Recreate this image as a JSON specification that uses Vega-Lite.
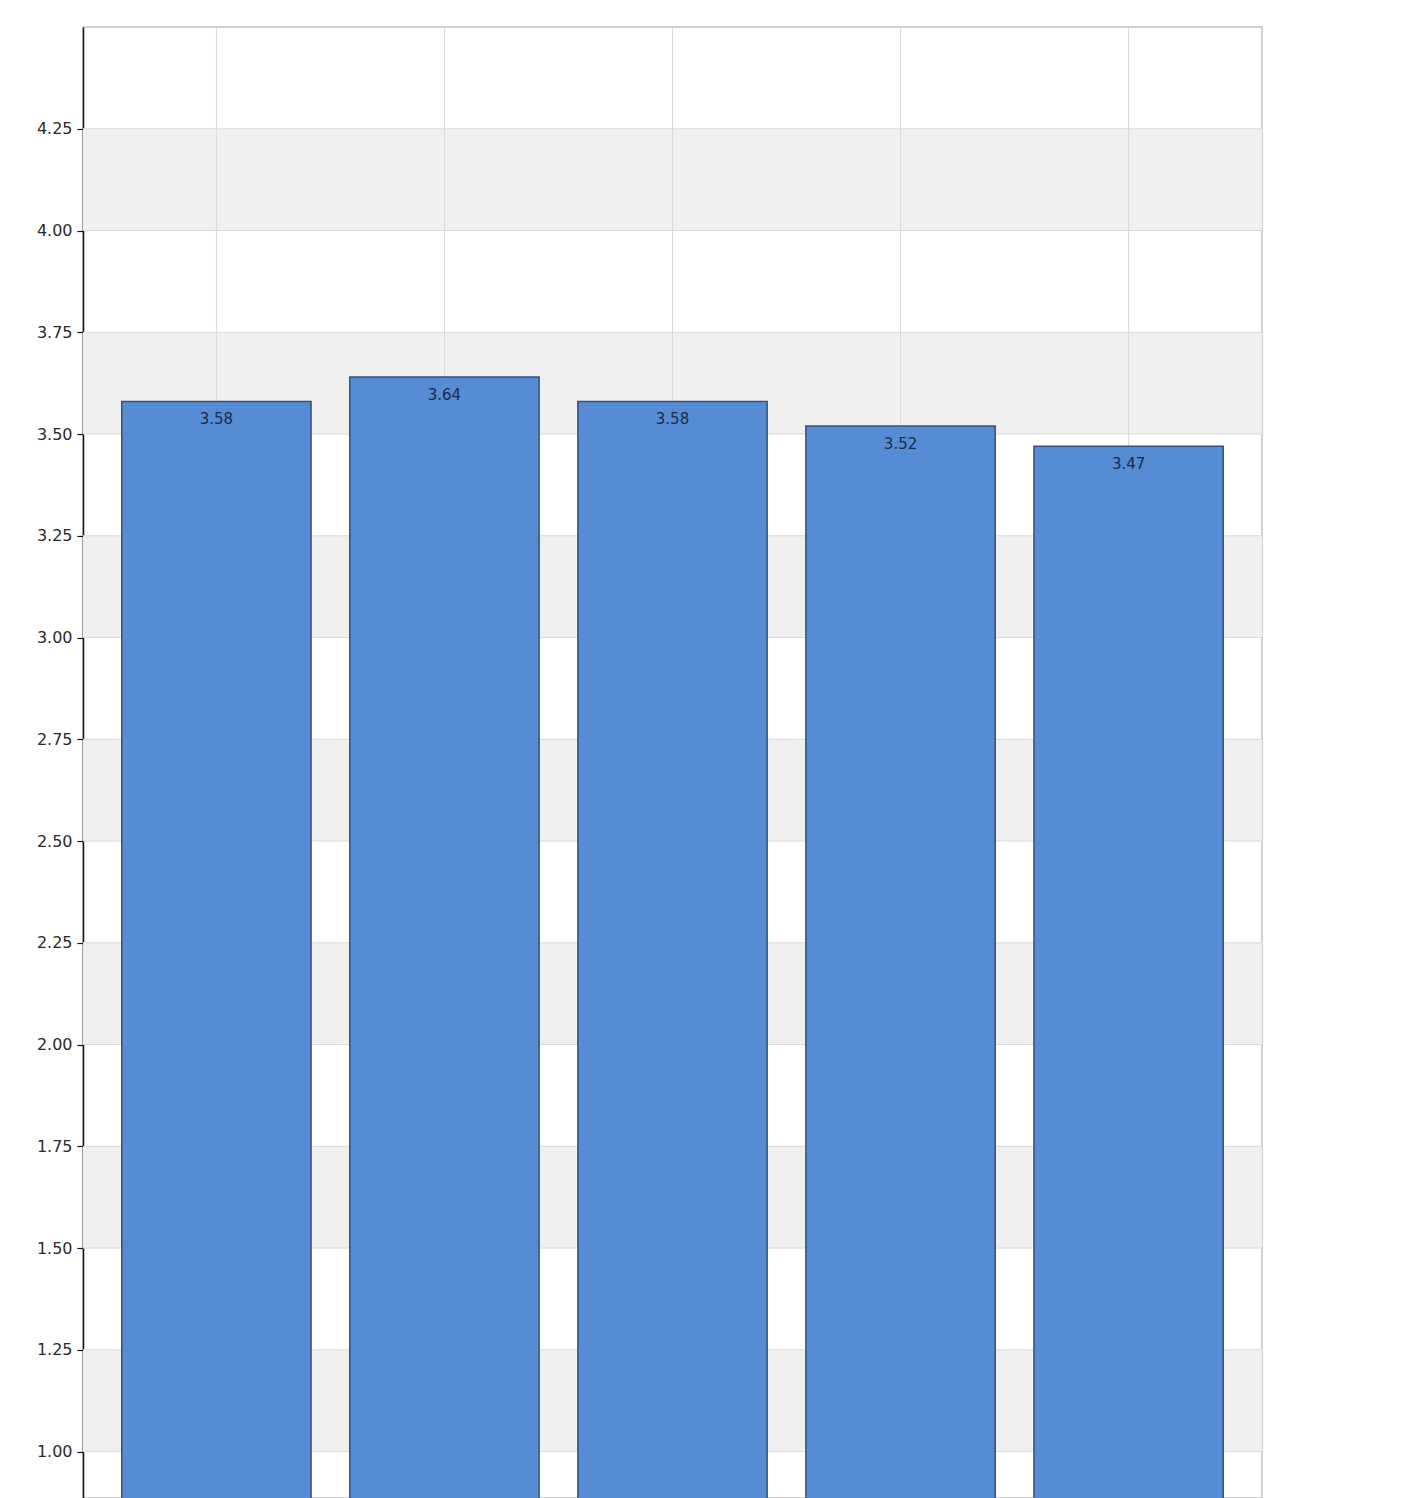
{
  "$schema": "https://vega.github.io/schema/vega-lite/v6.json",
  "autosize": "none",
  "width": 1179,
  "height": 1471,
  "padding": {"left": 83, "top": 27, "right": 159, "bottom": 0},
  "background": "white",
  "config": {
    "view": {"stroke": "#d0d0d0", "strokeWidth": 2},
    "font": "DejaVu Sans"
  },
  "datasets": {
    "bars": [
      {"category": "1", "value": 3.58},
      {"category": "2", "value": 3.64},
      {"category": "3", "value": 3.58},
      {"category": "4", "value": 3.52},
      {"category": "5", "value": 3.47}
    ],
    "bands": [
      {"lo": 1.0, "hi": 1.25},
      {"lo": 1.5, "hi": 1.75},
      {"lo": 2.0, "hi": 2.25},
      {"lo": 2.5, "hi": 2.75},
      {"lo": 3.0, "hi": 3.25},
      {"lo": 3.5, "hi": 3.75},
      {"lo": 4.0, "hi": 4.25}
    ],
    "grid": [
      {"v": 1.0}, {"v": 1.25}, {"v": 1.5}, {"v": 1.75}, {"v": 2.0}, {"v": 2.25},
      {"v": 2.5}, {"v": 2.75}, {"v": 3.0}, {"v": 3.25}, {"v": 3.5}, {"v": 3.75},
      {"v": 4.0}, {"v": 4.25}
    ]
  },
  "layer": [
    {
      "data": {"name": "bands"},
      "mark": {"type": "rect", "color": "#f0f0f0"},
      "encoding": {
        "y": {
          "field": "lo", "type": "quantitative",
          "scale": {"domain": [0.886, 4.5], "zero": false, "nice": false},
          "axis": {
            "title": null,
            "values": [1.0, 1.25, 1.5, 1.75, 2.0, 2.25, 2.5, 2.75, 3.0, 3.25, 3.5, 3.75, 4.0, 4.25],
            "format": ".2f",
            "grid": false,
            "domainColor": "#111111",
            "domainWidth": 1.5,
            "tickColor": "#111111",
            "tickSize": 6,
            "tickWidth": 1.2,
            "labelFontSize": 16,
            "labelColor": "#2a2a2a",
            "labelPadding": 5,
            "labelFont": "DejaVu Sans"
          }
        },
        "y2": {"field": "hi"}
      }
    },
    {
      "data": {"name": "grid"},
      "mark": {"type": "rule", "color": "#d9d9d9", "strokeWidth": 1},
      "encoding": {
        "y": {"field": "v", "type": "quantitative"}
      }
    },
    {
      "data": {"name": "bars"},
      "mark": {"type": "rule", "color": "#d9d9d9", "strokeWidth": 1},
      "encoding": {
        "x": {
          "field": "category", "type": "nominal",
          "scale": {"paddingInner": 0.17, "paddingOuter": 0.17},
          "axis": null
        }
      }
    },
    {
      "data": {"name": "bars"},
      "mark": {"type": "bar", "color": "#558cd3", "stroke": "#34507a", "strokeWidth": 1.5},
      "encoding": {
        "x": {"field": "category", "type": "nominal"},
        "y": {"field": "value", "type": "quantitative"}
      }
    },
    {
      "data": {"name": "bars"},
      "mark": {"type": "text", "baseline": "middle", "dy": 18, "fontSize": 15, "color": "#1c2b4a", "font": "DejaVu Sans"},
      "encoding": {
        "x": {"field": "category", "type": "nominal"},
        "y": {"field": "value", "type": "quantitative"},
        "text": {"field": "value", "type": "quantitative", "format": ".2f"}
      }
    }
  ]
}
